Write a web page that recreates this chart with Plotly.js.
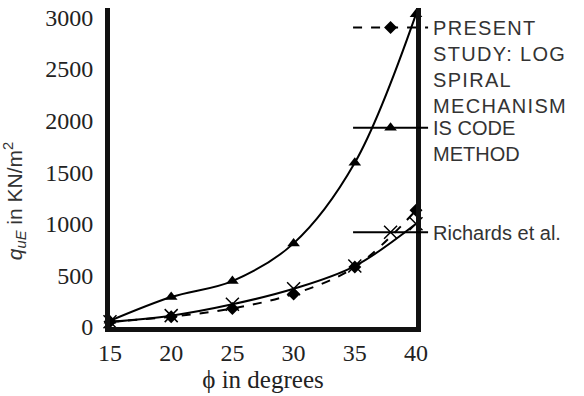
<!DOCTYPE html>
<html>
<head>
<meta charset="utf-8">
<script src="https://cdn.plot.ly/plotly-3.0.1.min.js"></script>
<style>
html,body{margin:0;padding:0;background:#fff;}
#chart{width:584px;height:396px;}
#chart text.legendtext, #chart text.legendtext tspan{letter-spacing:1.3px !important;}
#chart .legend .scrollbox{clip-path:none !important;}
</style>
</head>
<body>
<div id="chart"></div>
<script>
const phi = [15, 20, 25, 30, 35, 40];
const presentStudy = [50, 100, 180, 320, 580, 1130];
const isCode = [60, 290, 445, 810, 1590, 3030];
const richards = [50, 110, 220, 370, 590, 1000];
const xTicks = [15, 20, 25, 30, 35, 40];
const yTicks = [0, 500, 1000, 1500, 2000, 2500, 3000];
const names = [
  "PRESENT<br>STUDY: LOG<br>SPIRAL<br>MECHANISM",
  "IS CODE<br>METHOD",
  "Richards et al."
];

const traces = [
  {x: phi, y: presentStudy, name: names[0], mode: 'lines+markers', legend: 'legend',
   line: {color: '#000', width: 2, dash: 'dash', shape: 'spline'},
   marker: {symbol: 'diamond', size: 10, color: '#000'}, cliponaxis: false},
  {x: phi, y: isCode, name: names[1], mode: 'lines+markers', legend: 'legend2',
   line: {color: '#000', width: 2, shape: 'spline'},
   marker: {symbol: 'triangle-up', size: 11, color: '#000'}, cliponaxis: false},
  {x: phi, y: richards, name: names[2], mode: 'lines+markers', legend: 'legend3',
   line: {color: '#000', width: 2, shape: 'spline'},
   marker: {symbol: 'x-thin-open', size: 13, color: '#000', line: {width: 1.5, color: '#000'}}, cliponaxis: false}
];

const legendBase = {x: 0.778, xanchor: 'left', yanchor: 'top', bgcolor: 'rgba(0,0,0,0)',
  font: {family: 'Liberation Sans, Arial, sans-serif', size: 20, color: '#333'},
  valign: 'top', itemwidth: 75};

const layout = {
  width: 584, height: 396,
  margin: {l: 110, r: 168, t: 8, b: 69, pad: 0, autoexpand: false},
  paper_bgcolor: '#fff', plot_bgcolor: '#fff',
  showlegend: true,
  legend: Object.assign({}, legendBase, {y: 1.0}),
  legend2: Object.assign({}, legendBase, {y: 0.686}),
  legend3: Object.assign({}, legendBase, {y: 0.358}),
  xaxis: {range: [15, 40], tickvals: xTicks, ticktext: xTicks.map(String),
    showline: true, linewidth: 5, linecolor: '#111', mirror: false, showgrid: false, zeroline: false,
    ticks: '',
    tickfont: {family: 'Liberation Serif, Times New Roman, serif', size: 24, color: '#222'},
    title: {text: 'ϕ in degrees', standoff: 0, font: {family: 'Liberation Serif, Times New Roman, serif', size: 25, color: '#222'}}},
  yaxis: {range: [0, 3090], tickvals: yTicks, ticktext: yTicks.map(String),
    showline: true, linewidth: 5, linecolor: '#111', mirror: true, showgrid: false, zeroline: false,
    ticks: 'outside', ticklen: 7, tickcolor: 'rgba(0,0,0,0)',
    tickfont: {family: 'Liberation Serif, Times New Roman, serif', size: 24, color: '#222'}},
  annotations: [{
    xref: 'paper', yref: 'paper', x: -0.31, y: 0.395, xanchor: 'center', yanchor: 'middle',
    textangle: -90, showarrow: false,
    text: '<i>q</i><sub><i>uE</i></sub> in KN/m<sup>2</sup>',
    font: {family: 'Liberation Sans, Arial, sans-serif', size: 21, color: '#333'}
  }]
};

Plotly.newPlot('chart', traces, layout, {displayModeBar: false, staticPlot: true});
</script>
</body>
</html>
